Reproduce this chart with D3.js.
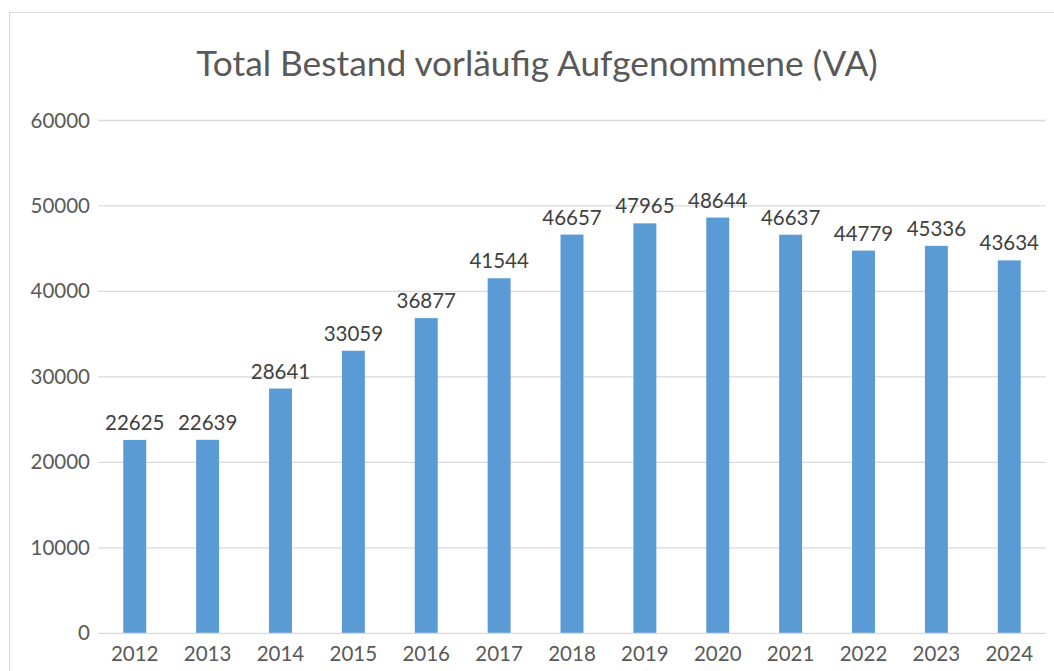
<!DOCTYPE html>
<html><head><meta charset="utf-8">
<script src="https://cdn.jsdelivr.net/npm/d3@7"></script>
<style>body{margin:0;background:#fff}svg{display:block}text{font-family:Lato,"Open Sans",sans-serif}</style>
</head><body>
<svg id="c" width="1054" height="671"></svg>
<script>
const years = ["2012","2013","2014","2015","2016","2017","2018","2019","2020","2021","2022","2023","2024"];
const values = [22625,22639,28641,33059,36877,41544,46657,47965,48644,46637,44779,45336,43634];
const yTicks = [0,10000,20000,30000,40000,50000,60000];
const title = "Total Bestand vorläufig Aufgenommene (VA)";

(function(){
const svg = d3.select("#c");
svg.append("rect").attr("x",9.5).attr("y",12.5).attr("width",1050).attr("height",670)
  .attr("fill","#fff").attr("stroke","#d9d9d9").attr("stroke-width",1);

const pL=98.3, pR=1045.7, pT=120.5, pB=633.3;
const x = d3.scaleBand().domain(years).range([pL,pR]).paddingInner(0.685).paddingOuter(0.3425);
const y = d3.scaleLinear().domain([0,60000]).range([pB,pT]);

svg.append("g").selectAll("line").data(yTicks).join("line")
  .attr("x1",pL).attr("x2",pR).attr("y1",d=>y(d)).attr("y2",d=>y(d))
  .attr("stroke","#d9d9d9").attr("stroke-width",1.3);

svg.append("g").selectAll("text").data(yTicks).join("text")
  .attr("x",90).attr("y",d=>y(d)+7).attr("text-anchor","end")
  .attr("font-size",20.5).attr("fill","#595959").text(d=>d);

svg.append("g").selectAll("rect").data(values).join("rect")
  .attr("x",(d,i)=>x(years[i])).attr("width",x.bandwidth())
  .attr("y",d=>y(d)).attr("height",d=>pB-y(d)-0.5).attr("fill","#5b9bd5");

svg.append("g").selectAll("text").data(values).join("text")
  .attr("x",(d,i)=>x(years[i])+x.bandwidth()/2).attr("y",d=>y(d)-10)
  .attr("text-anchor","middle").attr("font-size",20.5).attr("fill","#404040").text(d=>d);

svg.append("g").selectAll("text").data(years).join("text")
  .attr("x",d=>x(d)+x.bandwidth()/2).attr("y",661)
  .attr("text-anchor","middle").attr("font-size",20.5).attr("fill","#595959").text(d=>d);

svg.append("text").attr("x",537).attr("y",76).attr("text-anchor","middle")
  .attr("font-size",35.3).attr("fill","#595959").text(title);
})();
</script>
</body></html>
